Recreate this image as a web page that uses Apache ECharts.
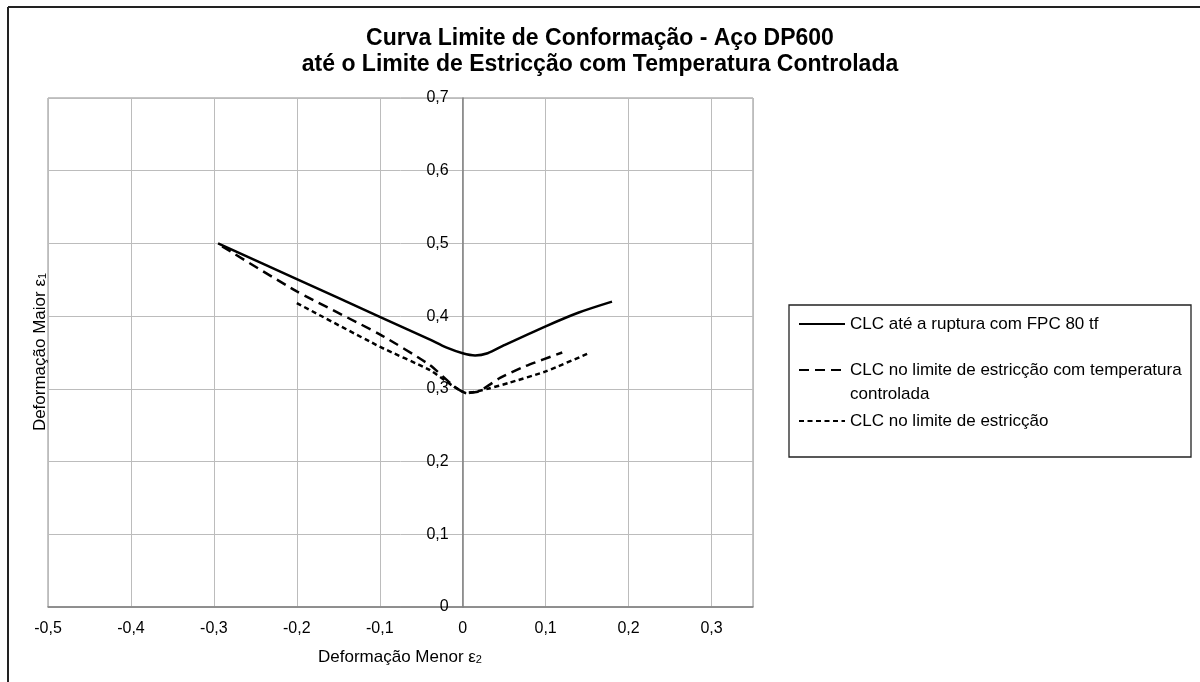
<!DOCTYPE html>
<html>
<head>
<meta charset="utf-8">
<script src="https://cdn.jsdelivr.net/npm/echarts@6/dist/echarts.min.js"></script>
<style>html,body{margin:0;padding:0;background:#fff}#c{width:1200px;height:682px}</style>
</head>
<body>
<div id="c"></div>
<script>
const FONT = 'Liberation Sans, Arial, sans-serif';
const titleText = 'Curva Limite de Conformação - Aço DP600\naté o Limite de Estricção com Temperatura Controlada';
const xAxisTitle = 'Deformação Menor ε';
const yAxisTitle = 'Deformação Maior ε';
const seriesNames = [
  'CLC até a ruptura com FPC 80 tf',
  'CLC no limite de estricção com temperatura\ncontrolada',
  'CLC no limite de estricção'
];
// Série 1 - CLC até a ruptura
const s1X = [-0.295, -0.2, -0.1, -0.04, -0.02, 0, 0.015, 0.03, 0.05, 0.1, 0.14, 0.18];
const s1Y = [0.5, 0.451, 0.399, 0.368, 0.357, 0.349, 0.346, 0.349, 0.360, 0.386, 0.405, 0.42];
// Série 2 - estricção com temperatura controlada
const s2X = [-0.29, -0.2, -0.1, -0.04, -0.012, 0.003, 0.018, 0.045, 0.075, 0.12];
const s2Y = [0.496, 0.434, 0.375, 0.333, 0.305, 0.295, 0.296, 0.315, 0.331, 0.35];
// Série 3 - estricção
const s3X = [-0.2, -0.1, -0.04, -0.012, 0.005, 0.03, 0.055, 0.1, 0.15];
const s3Y = [0.418, 0.358, 0.326, 0.304, 0.294, 0.3, 0.308, 0.324, 0.348];

const X_MIN = -0.5, X_MAX = 0.35;
const GRID_LEFT = 48, GRID_RIGHT = 447;

const zip = (xs, ys) => xs.map((x, i) => [x, ys[i]]);
const fmt = v => {
  if (Math.abs(v - Math.round(v * 10) / 10) > 1e-6) return '';
  if (Math.abs(v) < 1e-9) return '0';
  return (Math.round(v * 10) / 10).toFixed(1).replace('.', ',');
};

const chart = echarts.init(document.getElementById('c'), null, {renderer: 'canvas'});
const gridWidth = 1200 - GRID_LEFT - GRID_RIGHT;
const yAxisShift = (0 - X_MIN) / (X_MAX - X_MIN) * gridWidth;
const transparentItem = {color: 'rgba(0,0,0,0)', borderColor: 'rgba(0,0,0,0)', borderWidth: 0, opacity: 0};
const legendBase = {
  orient: 'vertical', left: 798, padding: 0, itemWidth: 46, itemHeight: 14,
  selectedMode: false, itemStyle: transparentItem
};
const legendText = {fontFamily: FONT, fontSize: 17, color: '#000', lineHeight: 24};
chart.setOption({
  animation: false,
  backgroundColor: '#fff',
  textStyle: {fontFamily: FONT},
  title: {
    text: titleText, left: 'center', top: 26, padding: 0,
    textStyle: {fontFamily: FONT, fontSize: 23, fontWeight: 'bold', color: '#000', lineHeight: 26}
  },
  grid: {left: GRID_LEFT, right: GRID_RIGHT, top: 98, bottom: 75, show: true, borderColor: '#8c8c8c', borderWidth: 1, containLabel: false},
  xAxis: {
    type: 'value', min: X_MIN, max: X_MAX, interval: 0.1,
    axisLine: {onZero: true, lineStyle: {color: '#7f7f7f', width: 1.5}},
    axisTick: {show: false},
    axisLabel: {formatter: fmt, color: '#000', fontSize: 16, fontFamily: FONT, margin: 14},
    splitLine: {show: true, lineStyle: {color: '#bcbcbc', width: 1}}
  },
  yAxis: {
    type: 'value', min: 0, max: 0.7, interval: 0.1, position: 'left', offset: -yAxisShift,
    axisLine: {show: true, onZero: false, lineStyle: {color: '#7f7f7f', width: 1.5}},
    axisTick: {show: false},
    axisLabel: {formatter: fmt, color: '#000', fontSize: 16, fontFamily: FONT, margin: 14},
    splitLine: {show: true, lineStyle: {color: '#bcbcbc', width: 1}}
  },
  legend: [
    Object.assign({}, legendBase, {top: 312, data: [seriesNames[0]], textStyle: legendText}),
    Object.assign({}, legendBase, {top: 334, data: [seriesNames[1]], textStyle: legendText,
      formatter: name => ' \n' + name}),
    Object.assign({}, legendBase, {top: 409, data: [seriesNames[2]], textStyle: legendText})
  ],
  series: [
    {name: seriesNames[0], type: 'line', data: zip(s1X, s1Y), symbol: 'none', smooth: 0.3,
      lineStyle: {color: '#000', width: 2.5, type: 'solid'}, itemStyle: {color: '#000'}},
    {name: seriesNames[1], type: 'line', data: zip(s2X, s2Y), symbol: 'none', smooth: 0.2,
      lineStyle: {color: '#000', width: 2.5, type: [10, 6]}, itemStyle: {color: '#000'}},
    {name: seriesNames[2], type: 'line', data: zip(s3X, s3Y), symbol: 'none', smooth: 0.2,
      lineStyle: {color: '#000', width: 2.5, type: [5, 3.5]}, itemStyle: {color: '#000'}}
  ],
  graphic: [
    {type: 'line', shape: {x1: 8, y1: 7, x2: 1200, y2: 7}, style: {stroke: '#222', lineWidth: 2}, silent: true},
    {type: 'line', shape: {x1: 8, y1: 7, x2: 8, y2: 682}, style: {stroke: '#222', lineWidth: 2}, silent: true},
    {type: 'rect', shape: {x: 789, y: 305, width: 402, height: 152},
      style: {fill: null, stroke: '#222', lineWidth: 1.3}, silent: true, z: 0},
    {type: 'text', x: 400, y: 657, silent: true,
      style: {text: xAxisTitle + '{s|2}', align: 'center', verticalAlign: 'middle',
        font: '17px ' + FONT, fill: '#000',
        rich: {s: {fontSize: 11, fontFamily: FONT, verticalAlign: 'bottom', lineHeight: 11, fill: '#000'}}}},
    {type: 'text', x: 40, y: 352, rotation: Math.PI / 2, silent: true,
      style: {text: yAxisTitle + '{s|1}', align: 'center', verticalAlign: 'middle',
        font: '17px ' + FONT, fill: '#000',
        rich: {s: {fontSize: 11, fontFamily: FONT, verticalAlign: 'bottom', lineHeight: 11, fill: '#000'}}}}
  ]
});
</script>
</body>
</html>
